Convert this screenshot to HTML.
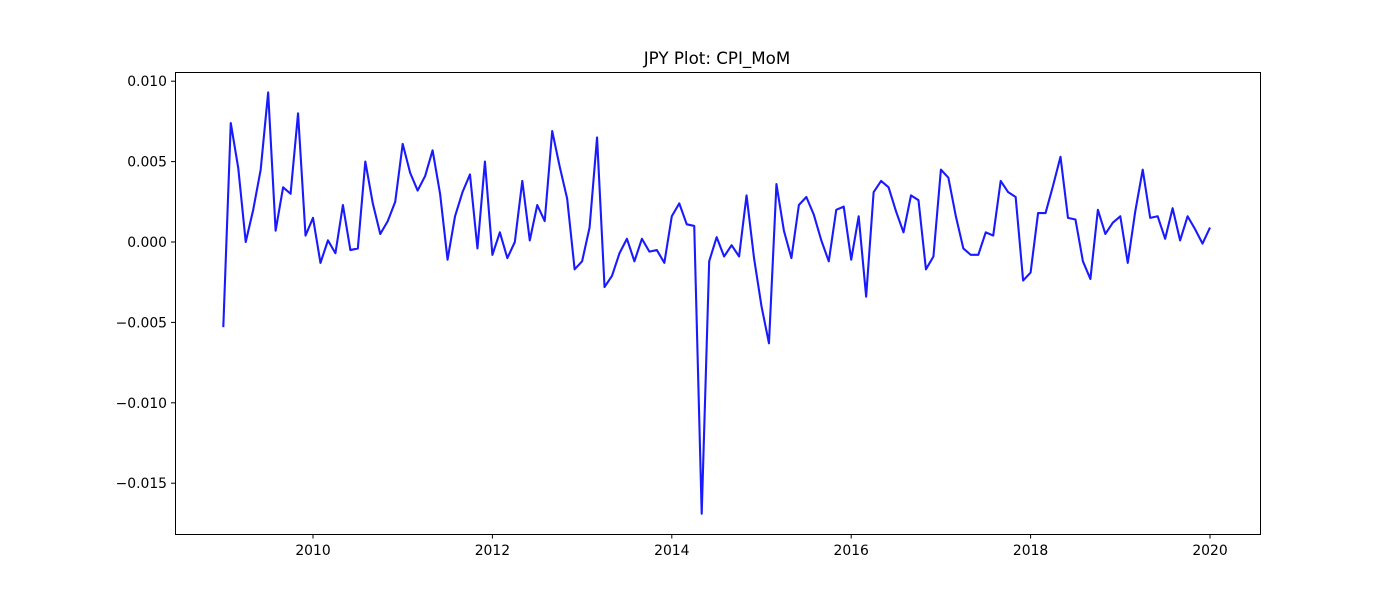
<!DOCTYPE html>
<html><head><meta charset="utf-8"><style>
body{margin:0;background:#fff;}
svg text{font-family:"DejaVu Sans","Liberation Sans",sans-serif;fill:#000;}
</style></head><body>
<svg id="chart" width="1400" height="600" xmlns="http://www.w3.org/2000/svg">
<rect width="1400" height="600" fill="#fff"/>
<text x="717" y="64" font-size="16.7" text-anchor="middle">JPY Plot: CPI_MoM</text>
<g id="plot"></g>
<rect x="175.5" y="72.5" width="1085" height="462" fill="none" stroke="#000" stroke-width="1"/>
</svg>
<script>
const startYear = 2009;
const values = [
-0.0053,0.0074,0.0046,0.0000,0.0020,0.0045,0.0093,0.0007,0.0034,0.0030,0.0080,0.0004,
0.0015,-0.0013,0.0001,-0.0007,0.0023,-0.0005,-0.0004,0.0050,0.0024,0.0005,0.0013,0.0025,
0.0061,0.0043,0.0032,0.0041,0.0057,0.0030,-0.0011,0.0016,0.0031,0.0042,-0.0004,0.0050,
-0.0008,0.0006,-0.0010,0.0000,0.0038,0.0001,0.0023,0.0013,0.0069,0.0047,0.0027,-0.0017,
-0.0012,0.0009,0.0065,-0.0028,-0.0021,-0.0007,0.0002,-0.0012,0.0002,-0.0006,-0.0005,-0.0013,
0.0016,0.0024,0.0011,0.0010,-0.0169,-0.0012,0.0003,-0.0009,-0.0002,-0.0009,0.0029,-0.0010,
-0.0040,-0.0063,0.0036,0.0007,-0.0010,0.0023,0.0028,0.0017,0.0001,-0.0012,0.0020,0.0022,
-0.0011,0.0016,-0.0034,0.0031,0.0038,0.0034,0.0019,0.0006,0.0029,0.0026,-0.0017,-0.0009,
0.0045,0.0040,0.0016,-0.0004,-0.0008,-0.0008,0.0006,0.0004,0.0038,0.0031,0.0028,-0.0024,
-0.0019,0.0018,0.0018,0.0035,0.0053,0.0015,0.0014,-0.0012,-0.0023,0.0020,0.0005,0.0012,
0.0016,-0.0013,0.0019,0.0045,0.0015,0.0016,0.0002,0.0021,0.0001,0.0016,0.0008,-0.0001,
0.0009];
const xTicks = [2010,2012,2014,2016,2018,2020];
const yTicks = [0.010,0.005,0.000,-0.005,-0.010,-0.015];
const yTickLabels = ["0.010","0.005","0.000","\u22120.005","\u22120.010","\u22120.015"];

const NS = "http://www.w3.org/2000/svg";
const g = document.getElementById('plot');
function xs(t){ return 313 + (t - 2010) * 89.7; }
function ys(v){ return 242 - v * 16080; }
function mk(tag, attrs){ const e = document.createElementNS(NS, tag); for (const k in attrs) e.setAttribute(k, attrs[k]); g.appendChild(e); return e; }

xTicks.forEach((t) => {
  const x = xs(t);
  const tk = mk('line', {x1:x, x2:x, y1:534.5, y2:538.5, stroke:'#000', 'stroke-width':1});
  
  
  const tx = mk('text', {x:x, y:555, 'font-size':13.9, 'text-anchor':'middle'});
  tx.textContent = String(t);
  
  
});
yTicks.forEach((v, i) => {
  const y = ys(v);
  const tk = mk('line', {x1:171, x2:175.5, y1:y, y2:y, stroke:'#000', 'stroke-width':1});
  
  
  const tx = mk('text', {x:167, y:y + 5, 'font-size':13.9, 'text-anchor':'end'});
  tx.textContent = yTickLabels[i];
  
  
});
const pts = values.map((v, i) => xs(startYear + i / 12).toFixed(2) + ',' + ys(v).toFixed(2)).join(' ');
const line = mk('polyline', {points:pts, fill:'none', stroke:'#1a1aff', 'stroke-width':2.1, 'stroke-linejoin':'round'});


</script>
</body></html>
